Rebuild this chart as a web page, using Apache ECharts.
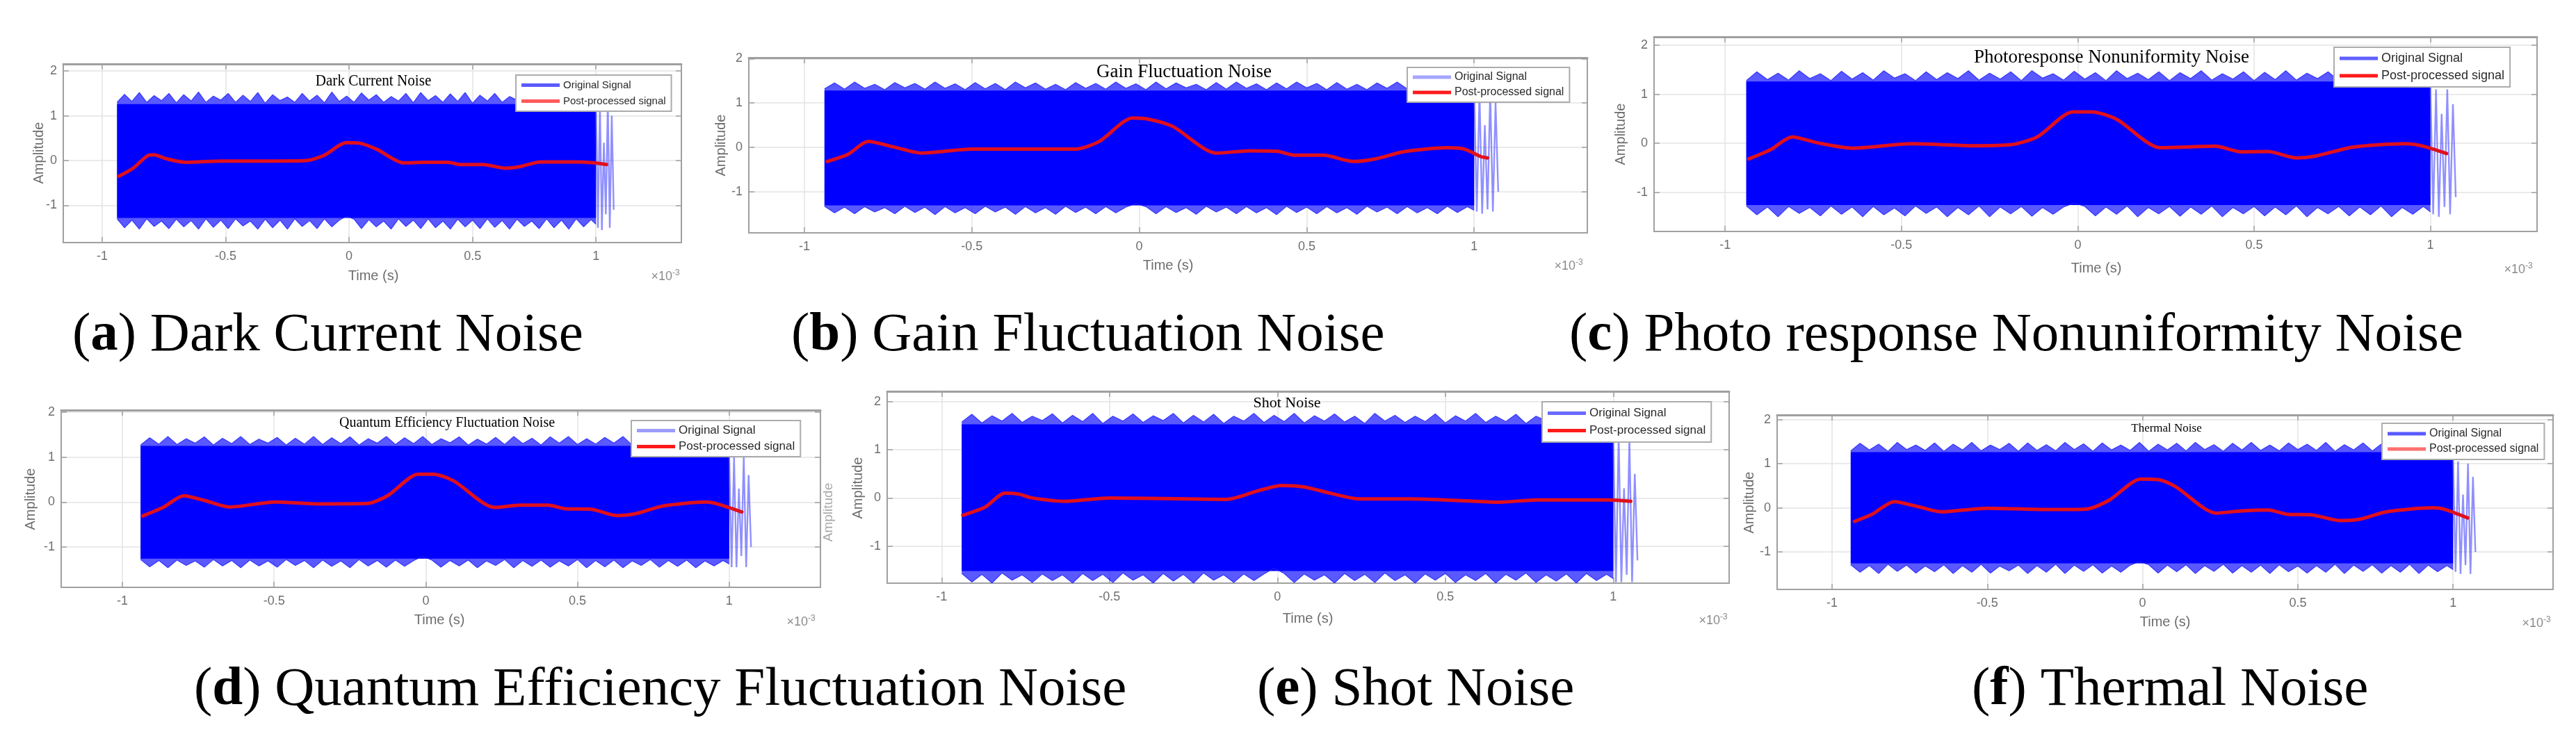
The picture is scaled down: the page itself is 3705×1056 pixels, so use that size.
<!DOCTYPE html>
<html>
<head>
<meta charset="utf-8">
<script src="https://cdn.jsdelivr.net/npm/echarts@6/dist/echarts.min.js"></script>
<style>
html,body{margin:0;padding:0;background:#fff;}
#chart{width:3705px;height:1056px;}
</style>
</head>
<body>
<div id="chart"></div>
<script>
// ---------------- DATA ----------------
const xTicks = [-1, -0.5, 0, 0.5, 1];
const yTicks = [-1, 0, 1, 2];
const legendNames = ['Original Signal', 'Post-processed signal'];
const panelTitles = ['Dark Current Noise', 'Gain Fluctuation Noise', 'Photoresponse Nonuniformity Noise',
  'Quantum Efficiency Fluctuation Noise', 'Shot Noise', 'Thermal Noise'];
const captionLetters = ['a', 'b', 'c', 'd', 'e', 'f'];
const captionTexts = ['Dark Current Noise', 'Gain Fluctuation Noise', 'Photo response Nonuniformity Noise',
  'Quantum Efficiency Fluctuation Noise', 'Shot Noise', 'Thermal Noise'];
const xAxisName = 'Time (s)';
const yAxisName = 'Amplitude';

// time samples (x 10^-3 s) of the original-signal envelope
const timeEnv = [-0.94,-0.91,-0.88,-0.85,-0.82,-0.79,-0.76,-0.73,-0.70,-0.67,-0.64,-0.61,-0.58,-0.55,-0.52,-0.49,-0.46,-0.43,-0.40,-0.37,-0.34,-0.31,-0.28,-0.25,-0.22,-0.19,-0.16,-0.13,-0.10,-0.07,-0.04,-0.01,0.02,0.05,0.08,0.11,0.14,0.17,0.20,0.23,0.26,0.29,0.32,0.35,0.38,0.41,0.44,0.47,0.50,0.53,0.56,0.59,0.62,0.65,0.68,0.71,0.74,0.77,0.80,0.83,0.86,0.89,0.92,0.95,0.98,1.0];
const tailTime = [1.0,1.008,1.016,1.024,1.032,1.04,1.048,1.056,1.064,1.072];

// (a) Dark Current Noise
const topA = [1.3,1.48,1.32,1.52,1.3,1.45,1.34,1.5,1.29,1.47,1.33,1.53,1.3,1.44,1.35,1.5,1.3,1.46,1.32,1.52,1.28,1.47,1.34,1.42,1.3,1.5,1.33,1.46,1.29,1.53,1.32,1.44,1.3,1.51,1.35,1.47,1.3,1.43,1.33,1.5,1.29,1.52,1.34,1.45,1.3,1.49,1.32,1.52,1.28,1.46,1.33,1.5,1.3,1.43,1.35,1.48,1.3,1.52,1.32,1.45,1.29,1.5,1.33,1.47,1.3,1.35];
const botA = [-1.3,-1.5,-1.33,-1.53,-1.3,-1.47,-1.35,-1.52,-1.31,-1.48,-1.34,-1.53,-1.3,-1.49,-1.33,-1.52,-1.3,-1.46,-1.35,-1.53,-1.31,-1.5,-1.33,-1.53,-1.3,-1.47,-1.34,-1.52,-1.3,-1.48,-1.33,-1.24,-1.31,-1.52,-1.32,-1.48,-1.35,-1.53,-1.3,-1.47,-1.33,-1.52,-1.3,-1.5,-1.35,-1.53,-1.31,-1.48,-1.33,-1.52,-1.3,-1.49,-1.34,-1.53,-1.31,-1.47,-1.35,-1.52,-1.3,-1.5,-1.33,-1.53,-1.3,-1.48,-1.32,-1.42];
const bandA = [1.26, -1.28];
const tailA = [1.35,-1.5,1.3,-1.55,0.4,-1.2,1.3,-1.5,1.0,-1.1];
const redXA = [-0.933,-0.875,-0.812,-0.79,-0.74,-0.66,-0.516,-0.336,-0.175,-0.10,-0.013,0.04,0.113,0.22,0.31,0.40,0.454,0.544,0.634,0.688,0.777,0.921,0.99,1.043];
const redYA = [-0.35,-0.17,0.12,0.13,0.04,-0.04,-0.01,-0.01,0,0.12,0.40,0.39,0.25,-0.05,-0.04,-0.04,-0.09,-0.09,-0.17,-0.14,-0.03,-0.03,-0.05,-0.09];

// (b) Gain Fluctuation Noise
const topB = [1.32,1.45,1.31,1.47,1.33,1.42,1.3,1.46,1.34,1.44,1.31,1.47,1.33,1.43,1.3,1.46,1.32,1.44,1.3,1.47,1.34,1.45,1.31,1.42,1.3,1.46,1.33,1.44,1.31,1.47,1.33,1.43,1.3,1.47,1.32,1.45,1.34,1.42,1.3,1.46,1.31,1.47,1.33,1.43,1.3,1.45,1.32,1.47,1.34,1.44,1.3,1.46,1.31,1.42,1.3,1.45,1.33,1.47,1.32,1.43,1.3,1.46,1.33,1.44,1.31,1.38];
const botB = [-1.33,-1.48,-1.35,-1.5,-1.34,-1.46,-1.36,-1.5,-1.33,-1.47,-1.35,-1.52,-1.34,-1.48,-1.36,-1.5,-1.33,-1.46,-1.35,-1.51,-1.34,-1.48,-1.36,-1.51,-1.33,-1.47,-1.35,-1.5,-1.34,-1.48,-1.35,-1.27,-1.34,-1.5,-1.34,-1.47,-1.36,-1.51,-1.33,-1.46,-1.35,-1.5,-1.34,-1.48,-1.36,-1.52,-1.33,-1.47,-1.35,-1.5,-1.34,-1.48,-1.36,-1.51,-1.33,-1.46,-1.35,-1.5,-1.34,-1.48,-1.36,-1.5,-1.33,-1.47,-1.34,-1.42];
const bandB = [1.28, -1.31];
const tailB = [1.3,-1.45,1.25,-1.5,0.5,-1.4,1.25,-1.45,1.0,-1.0];
const redXB = [-0.932,-0.87,-0.81,-0.73,-0.65,-0.5,-0.19,-0.12,-0.02,0.03,0.10,0.23,0.33,0.41,0.465,0.55,0.64,0.706,0.79,0.92,0.97,1.02,1.04];
const redYB = [-0.32,-0.16,0.13,0,-0.13,-0.04,-0.04,0.13,0.66,0.63,0.47,-0.13,-0.08,-0.09,-0.18,-0.18,-0.32,-0.26,-0.1,-0.01,-0.04,-0.21,-0.24];

// (c) Photoresponse Nonuniformity Noise
const topC = [1.28,1.46,1.3,1.43,1.29,1.48,1.32,1.42,1.28,1.47,1.31,1.44,1.29,1.48,1.33,1.42,1.28,1.46,1.3,1.44,1.32,1.48,1.29,1.43,1.31,1.46,1.28,1.48,1.33,1.42,1.29,1.47,1.31,1.44,1.28,1.48,1.32,1.43,1.3,1.46,1.28,1.44,1.32,1.48,1.29,1.42,1.31,1.46,1.28,1.45,1.3,1.48,1.29,1.43,1.32,1.46,1.28,1.47,1.31,1.42,1.29,1.46,1.32,1.44,1.3,1.34];
const botC = [-1.28,-1.46,-1.3,-1.5,-1.29,-1.43,-1.31,-1.48,-1.28,-1.45,-1.3,-1.5,-1.29,-1.46,-1.32,-1.48,-1.28,-1.43,-1.3,-1.5,-1.31,-1.46,-1.28,-1.5,-1.3,-1.44,-1.29,-1.49,-1.31,-1.45,-1.3,-1.22,-1.29,-1.48,-1.3,-1.45,-1.28,-1.5,-1.31,-1.44,-1.29,-1.49,-1.3,-1.45,-1.28,-1.5,-1.31,-1.44,-1.29,-1.48,-1.3,-1.46,-1.28,-1.5,-1.31,-1.44,-1.29,-1.48,-1.3,-1.46,-1.28,-1.5,-1.31,-1.45,-1.29,-1.4];
const bandC = [1.26, -1.26];
const tailC = [1.2,-1.45,1.1,-1.5,0.6,-1.3,1.1,-1.45,0.8,-1.1];
const redXC = [-0.933,-0.871,-0.81,-0.739,-0.64,-0.47,-0.297,-0.19,-0.115,-0.014,0.04,0.11,0.233,0.29,0.39,0.463,0.54,0.62,0.675,0.78,0.93,0.98,1.046];
const redYC = [-0.32,-0.13,0.13,0.01,-0.10,-0.01,-0.05,-0.03,0.13,0.64,0.64,0.49,-0.09,-0.08,-0.06,-0.175,-0.17,-0.30,-0.26,-0.08,-0.01,-0.06,-0.21];

// (d) Quantum Efficiency Fluctuation Noise
const topD = [1.27,1.43,1.29,1.46,1.28,1.41,1.31,1.45,1.27,1.42,1.3,1.46,1.28,1.4,1.31,1.44,1.27,1.42,1.29,1.46,1.28,1.43,1.3,1.45,1.27,1.41,1.31,1.46,1.28,1.43,1.3,1.46,1.28,1.41,1.32,1.45,1.27,1.4,1.29,1.44,1.28,1.46,1.3,1.42,1.27,1.45,1.31,1.46,1.28,1.41,1.29,1.44,1.31,1.46,1.27,1.4,1.3,1.45,1.28,1.43,1.3,1.46,1.28,1.42,1.29,1.33];
const botD = [-1.28,-1.44,-1.3,-1.46,-1.29,-1.41,-1.31,-1.45,-1.28,-1.42,-1.3,-1.46,-1.29,-1.42,-1.31,-1.45,-1.28,-1.41,-1.3,-1.46,-1.29,-1.43,-1.31,-1.46,-1.28,-1.42,-1.3,-1.45,-1.29,-1.43,-1.3,-1.21,-1.29,-1.45,-1.3,-1.42,-1.29,-1.46,-1.31,-1.41,-1.28,-1.46,-1.3,-1.43,-1.29,-1.45,-1.31,-1.42,-1.28,-1.46,-1.3,-1.44,-1.29,-1.46,-1.31,-1.41,-1.28,-1.45,-1.3,-1.43,-1.29,-1.46,-1.31,-1.42,-1.3,-1.38];
const bandD = [1.25, -1.26];
const tailD = [1.05,-1.45,1.0,-1.45,0.3,-1.2,1.0,-1.45,0.6,-1.0];
const redXD = [-0.933,-0.866,-0.798,-0.731,-0.647,-0.496,-0.361,-0.193,-0.126,-0.025,0.025,0.092,0.227,0.31,0.403,0.462,0.546,0.63,0.697,0.78,0.924,0.966,1.042];
const redYD = [-0.31,-0.12,0.14,0.04,-0.11,0,-0.04,-0.03,0.14,0.62,0.62,0.47,-0.12,-0.07,-0.07,-0.15,-0.16,-0.30,-0.25,-0.09,0,-0.05,-0.22];

// (e) Shot Noise
const topE = [1.58,1.74,1.56,1.71,1.6,1.76,1.57,1.7,1.61,1.75,1.56,1.72,1.59,1.76,1.55,1.7,1.6,1.75,1.57,1.71,1.61,1.76,1.56,1.72,1.58,1.74,1.55,1.7,1.6,1.76,1.57,1.72,1.59,1.76,1.56,1.71,1.6,1.75,1.58,1.7,1.55,1.76,1.6,1.72,1.57,1.7,1.59,1.75,1.56,1.71,1.6,1.76,1.57,1.7,1.59,1.74,1.55,1.7,1.61,1.75,1.57,1.72,1.6,1.76,1.58,1.65];
const botE = [-1.57,-1.75,-1.59,-1.77,-1.56,-1.71,-1.6,-1.76,-1.58,-1.72,-1.6,-1.77,-1.57,-1.72,-1.59,-1.76,-1.56,-1.71,-1.6,-1.77,-1.57,-1.73,-1.59,-1.77,-1.56,-1.71,-1.6,-1.76,-1.58,-1.72,-1.58,-1.46,-1.57,-1.76,-1.58,-1.71,-1.6,-1.77,-1.57,-1.72,-1.59,-1.76,-1.56,-1.72,-1.6,-1.77,-1.58,-1.71,-1.57,-1.76,-1.6,-1.72,-1.57,-1.77,-1.59,-1.71,-1.56,-1.76,-1.6,-1.73,-1.58,-1.77,-1.57,-1.72,-1.59,-1.68];
const bandE = [1.53, -1.52];
const tailE = [1.2,-1.75,1.3,-1.75,0.2,-1.6,1.25,-1.75,0.5,-1.3];
const redXE = [-0.937,-0.87,-0.812,-0.77,-0.73,-0.63,-0.5,-0.267,-0.152,-0.053,0.013,0.079,0.162,0.244,0.393,0.558,0.657,0.772,0.987,1.052];
const redYE = [-0.36,-0.19,0.10,0.08,0,-0.07,0,-0.02,-0.03,0.16,0.26,0.23,0.09,-0.02,-0.02,-0.06,-0.09,-0.04,-0.04,-0.07];

// (f) Thermal Noise
const topF = [1.29,1.46,1.31,1.44,1.28,1.48,1.32,1.42,1.3,1.47,1.28,1.44,1.31,1.48,1.29,1.42,1.32,1.46,1.28,1.47,1.3,1.43,1.29,1.48,1.32,1.45,1.28,1.47,1.31,1.42,1.3,1.48,1.28,1.44,1.31,1.46,1.29,1.48,1.32,1.43,1.28,1.46,1.31,1.48,1.3,1.42,1.29,1.47,1.32,1.44,1.3,1.48,1.28,1.43,1.31,1.47,1.29,1.45,1.32,1.48,1.3,1.44,1.28,1.46,1.31,1.36];
const botF = [-1.29,-1.46,-1.31,-1.49,-1.28,-1.44,-1.3,-1.48,-1.32,-1.45,-1.29,-1.49,-1.31,-1.46,-1.28,-1.48,-1.32,-1.43,-1.3,-1.49,-1.31,-1.46,-1.28,-1.49,-1.3,-1.44,-1.29,-1.48,-1.32,-1.46,-1.3,-1.22,-1.29,-1.48,-1.3,-1.45,-1.29,-1.49,-1.31,-1.44,-1.28,-1.48,-1.31,-1.46,-1.3,-1.49,-1.29,-1.45,-1.32,-1.48,-1.31,-1.46,-1.28,-1.49,-1.3,-1.44,-1.29,-1.48,-1.31,-1.46,-1.28,-1.49,-1.3,-1.45,-1.31,-1.4];
const bandF = [1.26, -1.26];
const tailF = [1.1,-1.45,1.05,-1.5,0.3,-1.3,1.0,-1.5,0.7,-1.0];
const redXF = [-0.928,-0.872,-0.80,-0.72,-0.65,-0.5,-0.313,-0.183,-0.108,-0.006,0.05,0.106,0.237,0.32,0.404,0.47,0.544,0.637,0.70,0.786,0.936,0.97,1.047];
const redYF = [-0.31,-0.15,0.14,0.02,-0.09,-0.01,-0.04,-0.03,0.17,0.65,0.64,0.48,-0.12,-0.07,-0.05,-0.15,-0.16,-0.29,-0.26,-0.09,0,-0.03,-0.23];

// ---------------- LAYOUT (positions / styles) ----------------
const panels = [
  {top: topA, bot: botA, band: bandA, tail: tailA, rx: redXA, ry: redYA,
   grid: {left: 91, top: 92, width: 889, height: 257}, xr: [-1.158, 1.346], yr: [-1.831, 2.157],
   title: {x: 537, y: 117, fs: 24, sx: 0.88},
   legend: {left: 742, top: 108, fs: 15, gap: 8, pad: 7, c1: '#5a5aff', c2: '#ff5a5a'},
   amp: [56, 220], time: [537, 397], exp: [957, 398]},
  {top: topB, bot: botB, band: bandB, tail: tailB, rx: redXB, ry: redYB,
   grid: {left: 1077, top: 83, width: 1206, height: 252}, xr: [-1.166, 1.338], yr: [-1.93, 2.02],
   title: {x: 1703, y: 104, fs: 27, sx: 1.0},
   legend: {left: 2024, top: 97, fs: 16, gap: 6, pad: 6, c1: '#a4a4ff', c2: '#ff1a1a'},
   amp: [1037, 209], time: [1680, 382], exp: [2256, 383]},
  {top: topC, bot: botC, band: bandC, tail: tailC, rx: redXC, ry: redYC,
   grid: {left: 2379, top: 53, width: 1270, height: 280}, xr: [-1.2016, 1.3026], yr: [-1.80, 2.172],
   title: {x: 3037, y: 83, fs: 27, sx: 1.0},
   legend: {left: 3357, top: 68, fs: 18, gap: 7, pad: 7, c1: '#6060ff', c2: '#ff1a1a'},
   amp: [2331, 193], time: [3015, 386], exp: [3622, 388]},
  {top: topD, bot: botD, band: bandD, tail: tailD, rx: redXD, ry: redYD,
   grid: {left: 88, top: 590, width: 1092, height: 255}, xr: [-1.2017, 1.3007], yr: [-1.897, 2.046],
   title: {x: 643, y: 609, fs: 20, sx: 1.0},
   legend: {left: 908, top: 605, fs: 17, gap: 6, pad: 6, c1: '#9c9cff', c2: '#ff1a1a'},
   amp: [44, 718], time: [632, 892], exp: [1152, 895]},
  {top: topE, bot: botE, band: bandE, tail: tailE, rx: redXE, ry: redYE,
   grid: {left: 1276, top: 563, width: 1211, height: 276}, xr: [-1.162, 1.345], yr: [-1.773, 2.218],
   title: {x: 1851, y: 580, fs: 22, sx: 1.0},
   legend: {left: 2218, top: 578, fs: 17, gap: 8, pad: 8, c1: '#6a6aff', c2: '#ff1a1a'},
   amp: [1234, 702], time: [1881, 890], exp: [2464, 893]},
  {top: topF, bot: botF, band: bandF, tail: tailF, rx: redXF, ry: redYF,
   grid: {left: 2556, top: 597, width: 1116, height: 251}, xr: [-1.177, 1.322], yr: [-1.85, 2.103],
   title: {x: 3116, y: 617, fs: 17, sx: 1.0},
   legend: {left: 3426, top: 609, fs: 16, gap: 6, pad: 7, c1: '#5a5aff', c2: '#ff7070'},
   amp: [2516, 723], time: [3114, 895], exp: [3648, 897]}
];
const captionPos = [[104, 483], [1138, 483], [2257, 483], [279, 993], [1808, 993], [2836, 993]];

function pairs(xs, ys) {
  const n = Math.min(xs.length, ys.length), out = [];
  for (let i = 0; i < n; i++) out.push([xs[i], ys[i]]);
  return out;
}

const FRAME = '#a0a0a0';
const LABEL = '#6e6e6e';
const SANS = 'Liberation Sans';
const SERIF = 'Liberation Serif';

const option = {
  animation: false,
  backgroundColor: '#ffffff',
  textStyle: {fontFamily: SANS},
  grid: [], xAxis: [], yAxis: [], series: [], legend: [], graphic: []
};

panels.forEach((p, i) => {
  option.grid.push(Object.assign({show: false, containLabel: false, outerBoundsMode: 'none'}, p.grid));
  const xa = 2 * i, ya = 2 * i;
  option.xAxis.push({
    type: 'value', gridIndex: i, position: 'bottom', min: p.xr[0], max: p.xr[1],
    axisLine: {show: true, onZero: false, lineStyle: {color: FRAME, width: 2}},
    axisTick: {show: true, inside: true, length: 8, customValues: xTicks, lineStyle: {color: FRAME, width: 1.5}},
    axisLabel: {show: true, customValues: xTicks, margin: 11, color: LABEL, fontSize: 18, fontFamily: SANS},
    splitLine: {show: true, lineStyle: {color: '#e3e3e3', width: 1.5}}
  });
  option.xAxis.push({
    type: 'value', gridIndex: i, position: 'top', min: p.xr[0], max: p.xr[1],
    axisLine: {show: true, onZero: false, lineStyle: {color: FRAME, width: 3}},
    axisTick: {show: true, inside: true, length: 8, customValues: xTicks, lineStyle: {color: FRAME, width: 1.5}},
    axisLabel: {show: false}, splitLine: {show: false}
  });
  option.yAxis.push({
    type: 'value', gridIndex: i, position: 'left', min: p.yr[0], max: p.yr[1],
    axisLine: {show: true, onZero: false, lineStyle: {color: FRAME, width: 2}},
    axisTick: {show: true, inside: true, length: 8, customValues: yTicks, lineStyle: {color: FRAME, width: 1.5}},
    axisLabel: {show: true, customValues: yTicks, margin: 9, color: LABEL, fontSize: 18, fontFamily: SANS},
    splitLine: {show: true, lineStyle: {color: '#e3e3e3', width: 1.5}}
  });
  option.yAxis.push({
    type: 'value', gridIndex: i, position: 'right', min: p.yr[0], max: p.yr[1],
    axisLine: {show: true, onZero: false, lineStyle: {color: FRAME, width: 2}},
    axisTick: {show: true, inside: true, length: 8, customValues: yTicks, lineStyle: {color: FRAME, width: 1.5}},
    axisLabel: {show: false}, splitLine: {show: false}
  });

  const t0 = timeEnv[0], t1 = timeEnv[timeEnv.length - 1];
  [p.top, p.bot].forEach(edge => {
    option.series.push({
      type: 'line', name: legendNames[0], xAxisIndex: xa, yAxisIndex: ya,
      data: pairs(timeEnv, edge), symbol: 'none', silent: true, z: 2,
      lineStyle: {width: 1.2, color: 'rgba(30,30,255,0.8)'},
      areaStyle: {color: 'rgba(0,0,255,0.93)', origin: 'auto'}
    });
  });
  option.series.push({
    type: 'line', name: legendNames[0], xAxisIndex: xa, yAxisIndex: ya,
    data: pairs([t0, t1], [p.band[0], p.band[0]]), symbol: 'none', silent: true, z: 3,
    lineStyle: {width: 0, opacity: 0},
    markArea: {silent: true, itemStyle: {color: '#0000ff', opacity: 1},
      data: [[{coord: [t0, p.band[1]]}, {coord: [t1, p.band[0]]}]]}
  });
  option.series.push({
    type: 'line', name: legendNames[0], xAxisIndex: xa, yAxisIndex: ya,
    data: pairs(tailTime, p.tail), symbol: 'none', silent: true, z: 2,
    lineStyle: {width: 2.4, color: 'rgba(70,70,255,0.6)'}
  });
  option.series.push({
    type: 'line', name: legendNames[1], xAxisIndex: xa, yAxisIndex: ya,
    data: pairs(p.rx, p.ry), symbol: 'none', silent: true, z: 6, smooth: 0.25,
    lineStyle: {width: 5, color: '#e0101c', cap: 'round', join: 'round'}
  });

  const L = p.legend;
  const ts = {fontFamily: SANS, fontSize: L.fs, color: '#2a2a2a'};
  option.legend.push({
    orient: 'vertical', left: L.left, top: L.top, icon: 'rect', itemWidth: 55, itemHeight: 5,
    itemGap: L.gap, padding: [L.pad, 8, L.pad, 8], backgroundColor: '#ffffff',
    borderColor: '#acacac', borderWidth: 2, borderRadius: 0, selectedMode: false, z: 10,
    textStyle: ts,
    data: [{name: legendNames[0], itemStyle: {color: L.c1}, textStyle: ts},
           {name: legendNames[1], itemStyle: {color: L.c2}, textStyle: ts}]
  });

  option.graphic.push({type: 'text', x: p.title.x, y: p.title.y, scaleX: p.title.sx, z: 20,
    style: {text: panelTitles[i], fill: '#000', fontSize: p.title.fs, fontFamily: SERIF,
      textAlign: 'center', textVerticalAlign: 'middle'}});
  option.graphic.push({type: 'text', x: p.time[0], y: p.time[1], z: 20,
    style: {text: xAxisName, fill: LABEL, fontSize: 20, fontFamily: SANS, textAlign: 'center', textVerticalAlign: 'middle'}});
  option.graphic.push({type: 'text', x: p.amp[0], y: p.amp[1], rotation: Math.PI / 2, z: 20,
    style: {text: yAxisName, fill: LABEL, fontSize: 20, fontFamily: SANS, textAlign: 'center', textVerticalAlign: 'middle'}});
  option.graphic.push({type: 'text', x: p.exp[0], y: p.exp[1], z: 20,
    style: {text: '×10{s|-3}', fill: '#8a8a8a', fontSize: 18, fontFamily: SANS, textAlign: 'center', textVerticalAlign: 'middle',
      rich: {s: {fontSize: 12, fontFamily: SANS, fill: '#8a8a8a', verticalAlign: 'top', padding: [0, 0, 10, 0]}}}});
  option.graphic.push({type: 'text', x: captionPos[i][0], y: captionPos[i][1], z: 20,
    style: {text: '({b|' + captionLetters[i] + '}) ' + captionTexts[i], fill: '#000', fontSize: 79,
      fontFamily: SERIF, textAlign: 'left', textVerticalAlign: 'middle',
      rich: {b: {fontSize: 79, fontFamily: SERIF, fontWeight: 'bold', fill: '#000'}}}});
});

option.graphic.push({type: 'text', x: 1192, y: 737, rotation: Math.PI / 2, z: 20,
  style: {text: yAxisName, fill: '#a8a8a8', fontSize: 19, fontFamily: SANS, textAlign: 'center', textVerticalAlign: 'middle'}});

const chart = echarts.init(document.getElementById('chart'), null, {renderer: 'canvas'});
chart.setOption(option);
</script>
</body>
</html>
